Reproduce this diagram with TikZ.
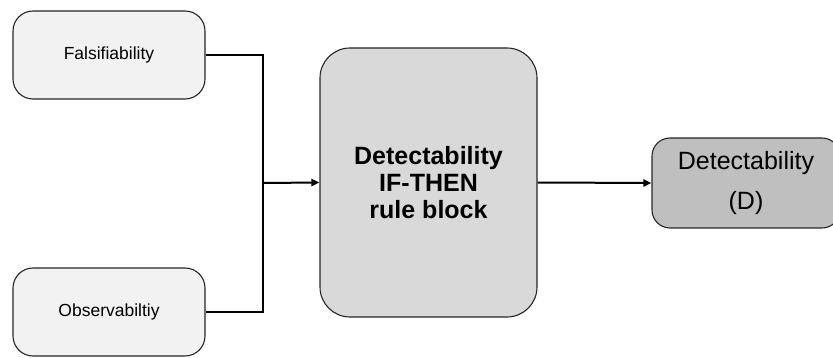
\documentclass[tikz,border=0pt]{standalone}
\usepackage{fontspec}
\setmainfont{Liberation Sans}
\usetikzlibrary{arrows.meta}
\begin{document}
\begin{tikzpicture}[x=1pt,y=-1pt,
        inbox/.style={draw=black!85,line width=1.1pt,fill=black!5,rounded corners=20pt,
            minimum width=192pt,minimum height=88pt,font=\fontsize{17.5}{21}\selectfont},
        rulebox/.style={draw=black!85,line width=1.1pt,fill=black!15,rounded corners=30pt,
            minimum width=217pt,minimum height=269pt,align=center,
            font=\fontsize{25}{27}\selectfont\bfseries},
        outbox/.style={draw=black!85,line width=1.1pt,fill=black!25,rounded corners=18pt,
            minimum width=188pt,minimum height=90pt,align=center,
            font=\fontsize{25}{40}\selectfont},
        link/.style={line width=2pt,-{Triangle[length=8pt,width=7pt]}}]
        \clip (0,0) rectangle (833,358);
        \useasboundingbox (0,0) rectangle (833,358);
        \node[inbox] (fals) at (109,55) {Falsifiability};
        \node[inbox] (obs) at (109,312) {Observabiltiy};
        \node[rulebox] (rules) at (428.5,182.5) {Detectability\\IF-THEN\\rule block};
        \node[outbox] (det) at (746,183) {Detectability\\(D)};
        \coordinate (join) at (263,183);
        \draw[line width=2pt] (fals.east) -| (join) |- (obs.east);
        \draw[link] (join) -- (rules.west);
        \draw[link] (rules.east) -- (det.west);
    \end{tikzpicture}
\end{document}
